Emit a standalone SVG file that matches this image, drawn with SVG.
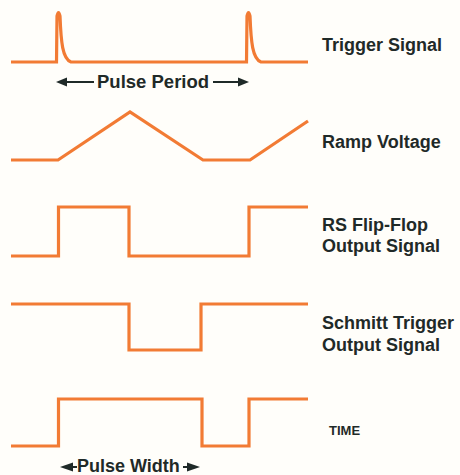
<svg xmlns="http://www.w3.org/2000/svg" width="460" height="475" viewBox="0 0 460 475">
<style>
.w{fill:none;stroke:#f27b34;stroke-width:3.2;stroke-linejoin:miter;stroke-linecap:butt}
.lbl{font-family:"Liberation Sans",Arial,sans-serif;font-weight:bold;font-size:18px;fill:#1f2a28}
.ar{stroke:#1f2a28;stroke-width:2;fill:none}
.ah{fill:#1f2a28}
</style>
<rect width="460" height="475" fill="#fffefa"/>
<g id="trigger">
<path class="w" d="M11,62 H56.5 L57,16 Q58.5,9 60,16 C61,42 62.5,59 71,62 H246.5 L247,16 Q248.5,9 250,16 C251,42 252.5,59 261,62 H308"/>
<text class="lbl" x="322" y="51">Trigger Signal</text>
</g>
<g id="period">
<line class="ar" x1="64" y1="82" x2="94" y2="82"/>
<polygon class="ah" points="56,82 67,77.5 67,86.5"/>
<line class="ar" x1="213" y1="82" x2="241" y2="82"/>
<polygon class="ah" points="249,82 238,77.5 238,86.5"/>
<text class="lbl" x="97" y="88" style="font-size:18.5px">Pulse Period</text>
</g>
<g id="ramp">
<path class="w" d="M11,160 H58 L130,112 L203,160 H250 L308,121"/>
<text class="lbl" x="322" y="148">Ramp Voltage</text>
</g>
<g id="rsff">
<path class="w" d="M11,256 H58.5 V207 H129 V256 H249 V207 H308"/>
<text class="lbl" x="322" y="231">RS Flip-Flop</text>
<text class="lbl" x="322" y="252">Output Signal</text>
</g>
<g id="schmitt">
<path class="w" d="M11,304 H129 V350 H201 V304 H308"/>
<text class="lbl" x="322" y="329">Schmitt Trigger</text>
<text class="lbl" x="322" y="351">Output Signal</text>
</g>
<g id="output">
<path class="w" d="M11,446 H58.5 V399 H202 V446 H249 V399 H308"/>
<text class="lbl" x="329" y="435" style="font-size:13px">TIME</text>
</g>
<g id="width">
<polygon class="ah" points="60,467 73,462.5 73,471.5"/>
<line class="ar" x1="70" y1="467" x2="77" y2="467"/>
<polygon class="ah" points="200,467 187,462.5 187,471.5"/>
<line class="ar" x1="183" y1="467" x2="190" y2="467"/>
<text class="lbl" x="77" y="472" style="font-size:18px">Pulse Width</text>
</g>
</svg>
